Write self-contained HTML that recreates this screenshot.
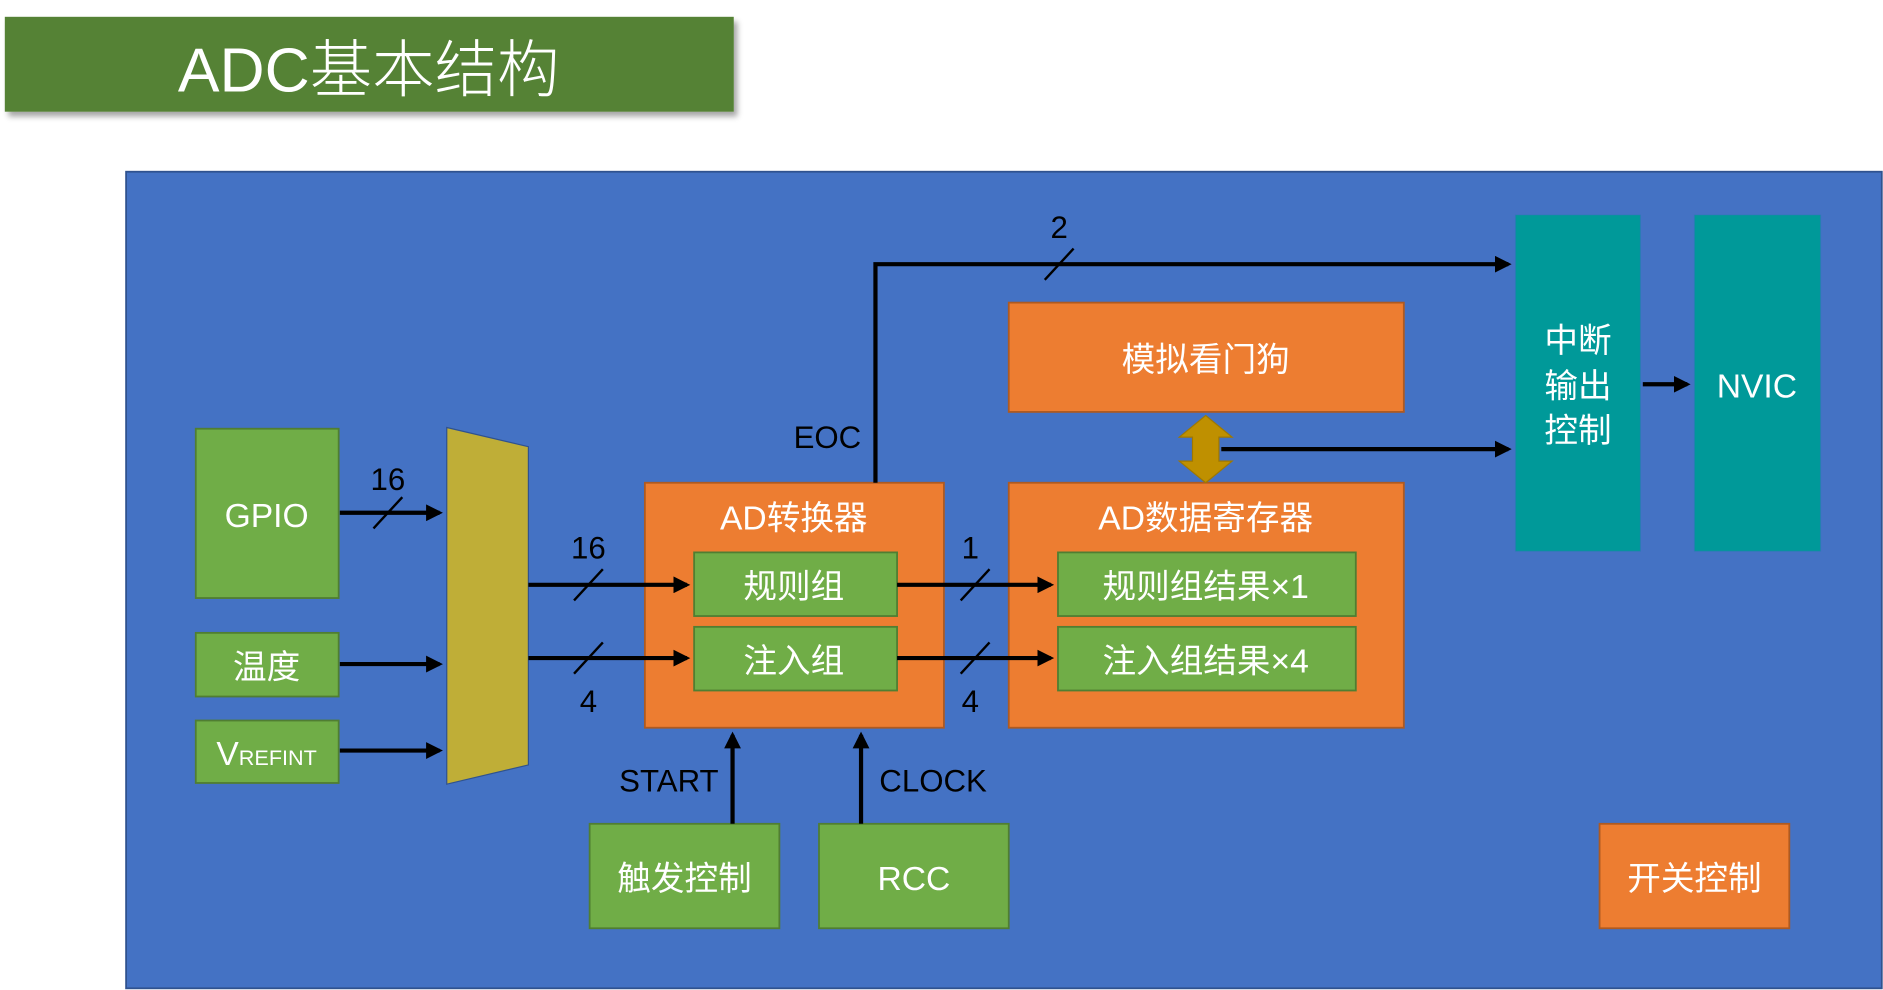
<!DOCTYPE html>
<html><head><meta charset="utf-8"><style>
html,body{margin:0;padding:0;background:#fff;width:1883px;height:990px;overflow:hidden}
svg text{font-family:"Liberation Sans","Noto Sans CJK SC",sans-serif}
</style></head><body>
<svg width="1883" height="990" viewBox="0 0 1568 824.4" xmlns="http://www.w3.org/2000/svg">
<defs>
<marker id="ah" markerWidth="4" markerHeight="4" refX="3.2" refY="2" orient="auto" markerUnits="strokeWidth"><path d="M0,0 L4,2 L0,4 z" fill="#000"/></marker>
<filter id="sh" x="-5%" y="-10%" width="115%" height="140%"><feDropShadow dx="3" dy="4" stdDeviation="2.5" flood-color="#000" flood-opacity="0.35"/></filter>
</defs>
<rect x="4" y="14" width="607" height="79" fill="#548235" filter="url(#sh)"/>
<text x="307" y="76" font-size="52" fill="#fff" text-anchor="middle" font-weight="300">ADC基本结构</text>

<rect x="105" y="143" width="1462" height="680" fill="#4472C4" stroke="#2F528F" stroke-width="1.5"/>

<g fill="#70AD47" stroke="#507E32" stroke-width="1.5">
<rect x="163" y="357" width="119" height="141"/>
<rect x="163" y="527" width="119" height="53"/>
<rect x="163" y="600" width="119" height="52"/>
<rect x="491" y="686" width="158" height="87"/>
<rect x="682" y="686" width="158" height="87"/>
</g>
<polygon points="372,356 440,372 440,637 372,653" fill="#BFAE37" stroke="#2F528F" stroke-width="1"/>

<g fill="#ED7D31" stroke="#AE5A21" stroke-width="1.5">
<rect x="537" y="402" width="249" height="204"/>
<rect x="840" y="402" width="329" height="204"/>
<rect x="840" y="252" width="329" height="91"/>
<rect x="1332" y="686" width="158" height="87"/>
</g>
<g fill="#70AD47" stroke="#507E32" stroke-width="1.5">
<rect x="578" y="460" width="169" height="53"/>
<rect x="578" y="522" width="169" height="53"/>
<rect x="881" y="460" width="248" height="53"/>
<rect x="881" y="522" width="248" height="53"/>
</g>
<g fill="#009999" stroke="#2E75B6" stroke-width="1" stroke-opacity="0.4">
<rect x="1262" y="179" width="104" height="280"/>
<rect x="1411" y="179" width="105" height="280"/>
</g>

<g stroke="#000" stroke-width="3.5" fill="none">
<line x1="283" y1="427" x2="366" y2="427" marker-end="url(#ah)"/>
<line x1="283" y1="553" x2="366" y2="553" marker-end="url(#ah)"/>
<line x1="283" y1="625" x2="366" y2="625" marker-end="url(#ah)"/>
<line x1="440" y1="487" x2="572" y2="487" marker-end="url(#ah)"/>
<line x1="440" y1="548" x2="572" y2="548" marker-end="url(#ah)"/>
<line x1="747" y1="487" x2="875" y2="487" marker-end="url(#ah)"/>
<line x1="747" y1="548" x2="875" y2="548" marker-end="url(#ah)"/>
<polyline points="729,402 729,220 1256,220" marker-end="url(#ah)"/>
<line x1="1017" y1="374" x2="1256" y2="374" marker-end="url(#ah)"/>
<line x1="1368" y1="320" x2="1405" y2="320" marker-end="url(#ah)"/>
<line x1="610" y1="686" x2="610" y2="612" marker-end="url(#ah)"/>
<line x1="717" y1="686" x2="717" y2="612" marker-end="url(#ah)"/>
</g>
<g stroke="#000" stroke-width="2">
<line x1="311" y1="440" x2="335" y2="414"/>
<line x1="478" y1="500" x2="502" y2="474"/>
<line x1="478" y1="561" x2="502" y2="535"/>
<line x1="800" y1="500" x2="824" y2="474"/>
<line x1="800" y1="561" x2="824" y2="535"/>
<line x1="870" y1="233" x2="894" y2="207"/>
</g>
<polygon points="1004,346 1026,364 1015,364 1015,384 1026,384 1004,402 982,384 993,384 993,364 982,364" fill="#BF9000" stroke="#A07800" stroke-width="1"/>

<g font-size="26" fill="#000" text-anchor="middle">
<text x="323" y="408">16</text>
<text x="490" y="465">16</text>
<text x="490" y="593">4</text>
<text x="808" y="465">1</text>
<text x="808" y="593">4</text>
<text x="882" y="198">2</text>
<text x="689" y="373">EOC</text>
<text x="557" y="659">START</text>
<text x="777" y="659">CLOCK</text>
</g>
<g font-size="28" fill="#fff" text-anchor="middle">
<text x="222" y="439">GPIO</text>
<text x="222" y="565">温度</text>
<text x="222" y="637">V<tspan font-size="18">REFINT</tspan></text>
<text x="661" y="441">AD转换器</text>
<text x="661" y="498">规则组</text>
<text x="661" y="560">注入组</text>
<text x="1004" y="441">AD数据寄存器</text>
<text x="1004" y="498">规则组结果×1</text>
<text x="1004" y="560">注入组结果×4</text>
<text x="1004" y="309">模拟看门狗</text>
<text x="1314" y="293">中断</text>
<text x="1314" y="331">输出</text>
<text x="1314" y="368">控制</text>
<text x="1463" y="331">NVIC</text>
<text x="570" y="741">触发控制</text>
<text x="761" y="741">RCC</text>
<text x="1411" y="741">开关控制</text>
</g>
</svg>
</body></html>
